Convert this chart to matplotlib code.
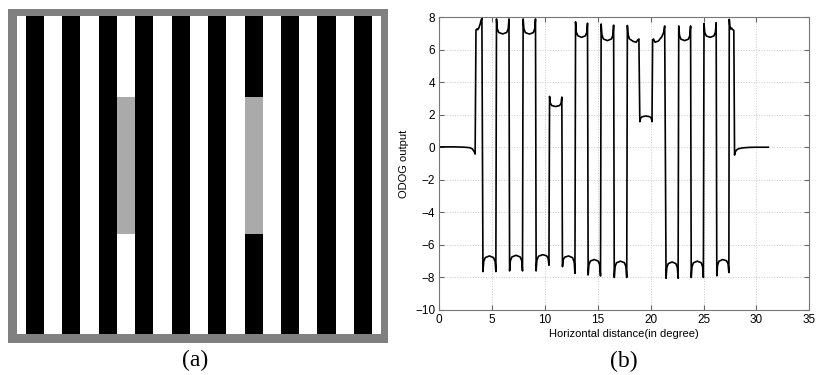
import numpy as np
import matplotlib
matplotlib.use('Agg')
import matplotlib.pyplot as plt
from matplotlib.patches import Rectangle

# ---- panel (a): stimulus, stripes from left to right (1 = white, 0 = black)
stripe_lum = [1, 0, 1, 0, 1, 0, 1, 0, 1, 0, 1, 0, 1, 0, 1, 0, 1, 0, 1, 0, 1]
patch_stripes = [6, 13]          # stripes that hold a gray test patch
patch_lum = 0.667
patch_rows = [0.256, 0.685]      # top / bottom of the patches (fraction of height)

# ---- panel (b): ODOG output along the horizontal axis
odog_x = [
    0.0, 1.5, 2.4, 2.9, 3.12, 3.31, 3.39,
    3.47, 3.55, 3.63, 3.72, 3.78, 3.86, 3.95, 4.03,
    4.13, 4.20, 4.35, 4.74, 5.13, 5.28, 5.35,
    5.41, 5.48, 5.62, 6.00, 6.38, 6.52, 6.59,
    6.65, 6.72, 6.87, 7.26, 7.65, 7.80, 7.87,
    7.93, 8.00, 8.14, 8.52, 8.89, 9.03, 9.10,
    9.16, 9.23, 9.38, 9.77, 10.15, 10.30, 10.37,
    10.43, 10.50, 10.64, 11.01, 11.38, 11.52, 11.59,
    11.65, 11.72, 11.87, 12.24, 12.61, 12.76, 12.83,
    12.89, 12.96, 13.10, 13.45, 13.81, 13.95, 14.02,
    14.08, 14.15, 14.29, 14.66, 15.04, 15.18, 15.25,
    15.31, 15.38, 15.52, 15.90, 16.28, 16.42, 16.49,
    16.55, 16.62, 16.76, 17.14, 17.52, 17.66, 17.73,
    17.79, 17.85, 17.98, 18.35, 18.62, 18.76, 18.88,
    18.97, 19.04, 19.18, 19.55, 19.92, 20.06, 20.12,
    20.18, 20.26, 20.40, 20.72, 21.04, 21.22, 21.32,
    21.45, 21.52, 21.66, 22.02, 22.38, 22.52, 22.59,
    22.65, 22.72, 22.85, 23.21, 23.57, 23.70, 23.77,
    23.83, 23.90, 24.04, 24.41, 24.78, 24.91, 24.98,
    25.04, 25.11, 25.25, 25.62, 25.98, 26.12, 26.19,
    26.25, 26.32, 26.46, 26.82, 27.18, 27.32, 27.39,
    27.43, 27.48, 27.56, 27.65, 27.75, 27.86,
    27.93, 27.98, 28.10, 28.30, 28.70, 29.30, 30.00, 31.12,
]
odog_y = [
    0.02, 0.02, 0.0, -0.03, -0.10, -0.28, -0.42,
    7.20, 7.26, 7.22, 7.30, 7.40, 7.55, 7.80, 7.92,
    -7.64, -7.02, -6.78, -6.68, -6.78, -7.02, -7.64,
    7.88, 7.28, 7.05, 6.96, 7.05, 7.28, 7.88,
    -7.60, -6.98, -6.74, -6.64, -6.74, -6.98, -7.60,
    7.88, 7.28, 7.04, 6.95, 7.04, 7.28, 7.88,
    -7.60, -6.95, -6.70, -6.60, -6.67, -6.83, -7.25,
    3.12, 2.72, 2.56, 2.50, 2.56, 2.70, 3.08,
    -7.34, -6.91, -6.75, -6.68, -6.79, -7.05, -7.75,
    7.70, 7.08, 6.85, 6.75, 6.84, 7.05, 7.62,
    -7.85, -7.23, -6.99, -6.90, -7.00, -7.25, -7.91,
    7.57, 6.91, 6.65, 6.55, 6.65, 6.88, 7.50,
    -8.00, -7.35, -7.10, -7.00, -7.10, -7.35, -8.00,
    7.48, 6.95, 6.66, 6.50, 6.45, 6.58, 6.65,
    1.57, 1.78, 1.87, 1.92, 1.87, 1.78, 1.57,
    6.60, 6.65, 6.45, 6.52, 6.78, 7.05, 7.45,
    -8.05, -7.40, -7.15, -7.05, -7.15, -7.40, -8.05,
    7.45, 6.87, 6.64, 6.55, 6.64, 6.87, 7.45,
    -8.00, -7.35, -7.10, -7.00, -7.10, -7.35, -8.00,
    7.60, 7.05, 6.84, 6.75, 6.84, 7.07, 7.65,
    -7.90, -7.25, -7.00, -6.90, -6.98, -7.18, -7.70,
    7.86, 7.45, 7.26, 7.32, 7.22, 7.18,
    -0.48, -0.32, -0.18, -0.09, -0.04, -0.01, 0.0, 0.0,
]

W, H = 816, 375
fig = plt.figure(figsize=(W / 100, H / 100), dpi=100)

# panel (a)
ax_a = fig.add_axes([8 / W, 32 / H, 380 / W, 334 / H])
ax_a.add_patch(Rectangle((0, 0), 1, 1, transform=ax_a.transAxes,
                         facecolor='#808080', edgecolor='none', zorder=0))
n = len(stripe_lum)
x_edges = np.concatenate([[0], np.arange(n - 1) + 0.5, [n - 1]])
y_edges = np.array([0, patch_rows[0], patch_rows[1], 1])
img = np.tile(np.array(stripe_lum, dtype=float), (3, 1))
for s in patch_stripes:
    img[1, s] = patch_lum
# inner picture sits inside an ~8 px gray frame
bx = 8.7 / 380 * (n - 1) / (1 - (8.7 + 6.8) / 380)
by = 8.7 / 334 / (1 - (8.7 + 6.6) / 334)
ax_a.pcolormesh(x_edges, y_edges, img, cmap='gray', vmin=0, vmax=1,
                shading='flat', zorder=1)
span_x = (n - 1) / (1 - (8.7 + 6.8) / 380)
span_y = 1 / (1 - (8.7 + 6.6) / 334)
ax_a.set_xlim(-bx, -bx + span_x)
ax_a.set_ylim(1 + by, 1 + by - span_y)
ax_a.set_xticks([])
ax_a.set_yticks([])
for sp in ax_a.spines.values():
    sp.set_visible(False)

# panel (b)
ax_b = fig.add_axes([439.3 / W, 65 / H, 370 / W, 293 / H])
ax_b.plot(odog_x, odog_y, color='black', lw=1.2)
ax_b.set_xlim(0, 35)
ax_b.set_ylim(-10, 8)
ax_b.set_xticks(range(0, 36, 5))
ax_b.set_yticks(range(-10, 9, 2))
ax_b.grid(True, linestyle=':', color='#c8c8c8', lw=0.7)
ax_b.tick_params(direction='in', length=3.5, top=True, right=True,
                 labelsize=8.5, pad=3, color='#666666')
for lab in ax_b.get_xticklabels() + ax_b.get_yticklabels():
    lab.set_fontfamily('Liberation Sans')
for sp in ax_b.spines.values():
    sp.set_color('#777777')
    sp.set_linewidth(0.8)
ax_b.set_xlabel('Horizontal distance(in degree)', fontsize=8,
                family='Liberation Sans', labelpad=2)
ax_b.set_ylabel('ODOG output', fontsize=8, family='Liberation Sans',
                labelpad=4)

fig.text(195 / W, 1 - 360 / H, '(a)', ha='center', va='center',
         fontsize=17, family='Liberation Serif')
fig.text(624 / W, 1 - 361 / H, '(b)', ha='center', va='center',
         fontsize=17, family='Liberation Serif')

fig.savefig('out.png', dpi=100)
